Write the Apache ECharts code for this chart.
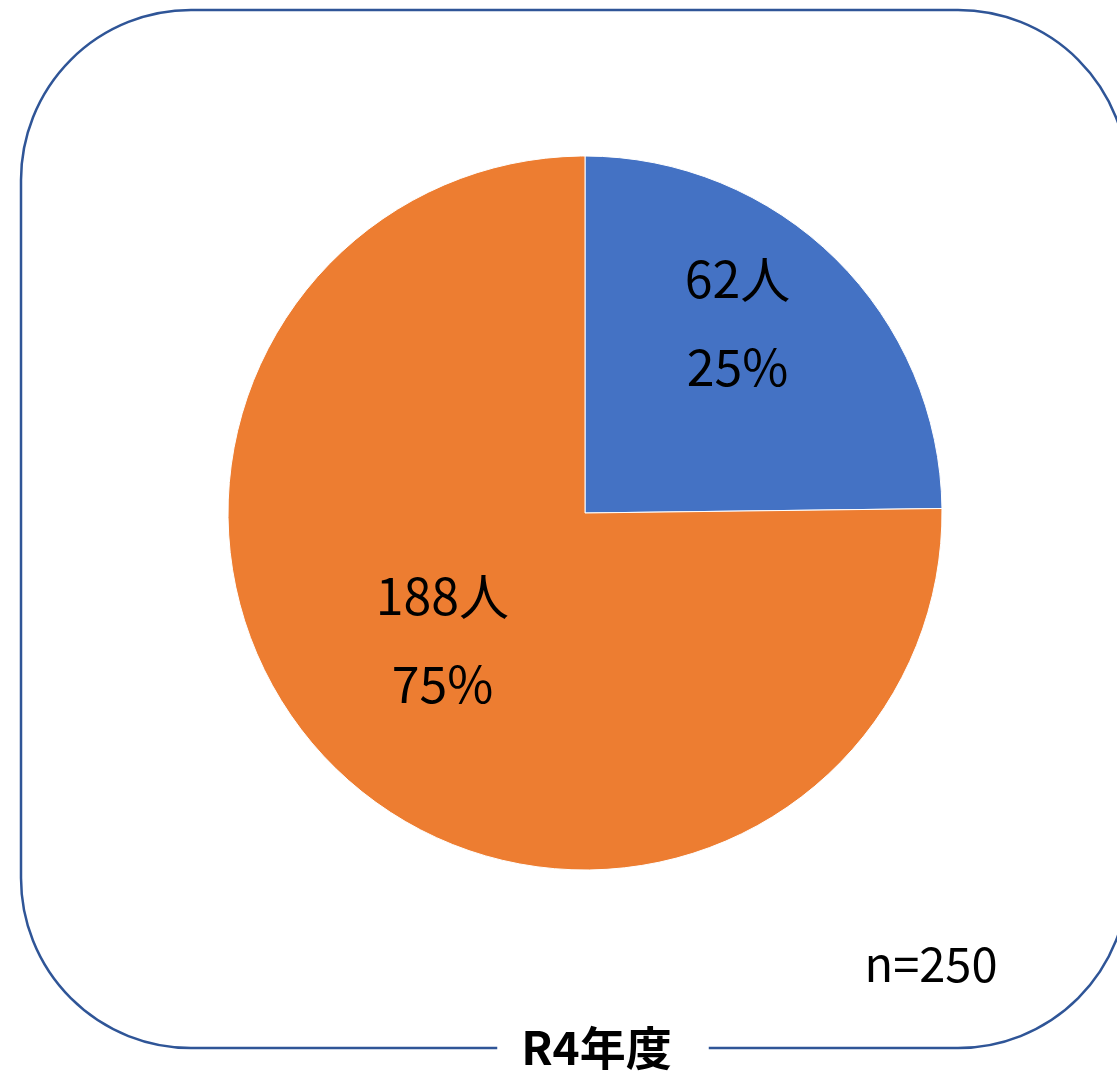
<!DOCTYPE html>
<html>
<head>
<meta charset="utf-8">
<script src="https://cdn.jsdelivr.net/npm/echarts@6/dist/echarts.min.js"></script>
<style>
html,body{margin:0;padding:0;background:#fff;}
#chart{width:1117px;height:1075px;}
</style>
</head>
<body>
<div id="chart"></div>
<script>
// Data
var categories = ['A', 'B'];
var values = [62, 188];
var colors = ['#4472C4', '#ED7D31'];
var titleText = 'R4年度';
var nText = 'n=250';
var unit = '人';

var FONT = '"Noto Sans CJK JP", "Noto Sans", sans-serif';
var labelOffsets = [[25, -61], [-15, -2]];

var chart = echarts.init(document.getElementById('chart'), null, {renderer: 'canvas'});
chart.setOption({
  backgroundColor: '#ffffff',
  animation: false,
  graphic: [
    {
      type: 'rect',
      z: 0,
      shape: {x: 21, y: 10, width: 1107, height: 1038, r: 170},
      style: {fill: 'none', stroke: '#2F5597', lineWidth: 2.5}
    },
    {
      type: 'text',
      z: 10,
      x: 603, y: 1048,
      style: {
        text: titleText,
        font: 'bold 46px ' + FONT,
        fill: '#000',
        align: 'center',
        verticalAlign: 'middle',
        backgroundColor: '#ffffff',
        padding: [4, 37, 4, 24]
      }
    },
    {
      type: 'text',
      z: 10,
      x: 931, y: 964,
      style: {
        text: nText,
        font: '47px ' + FONT,
        fill: '#000',
        align: 'center',
        verticalAlign: 'middle'
      }
    }
  ],
  series: [{
    type: 'pie',
    center: [585, 513],
    radius: [0, 357],
    startAngle: 90,
    clockwise: true,
    percentPrecision: 0,
    itemStyle: {borderColor: '#ffffff', borderWidth: 1},
    label: {
      show: true,
      position: 'inside',
      formatter: function (p) { return '{a|' + p.value + unit + '}\n{a|' + Math.round(p.percent) + '%}'; },
      rich: {
        a: {fontFamily: FONT, fontSize: 50, color: '#000', lineHeight: 88, align: 'center'}
      }
    },
    labelLayout: function (p) {
      var o = labelOffsets[p.dataIndex];
      return {dx: o[0], dy: o[1]};
    },
    labelLine: {show: false},
    emphasis: {disabled: true},
    data: categories.map(function (c, i) {
      return {name: c, value: values[i], itemStyle: {color: colors[i]}};
    })
  }]
});
</script>
</body>
</html>
